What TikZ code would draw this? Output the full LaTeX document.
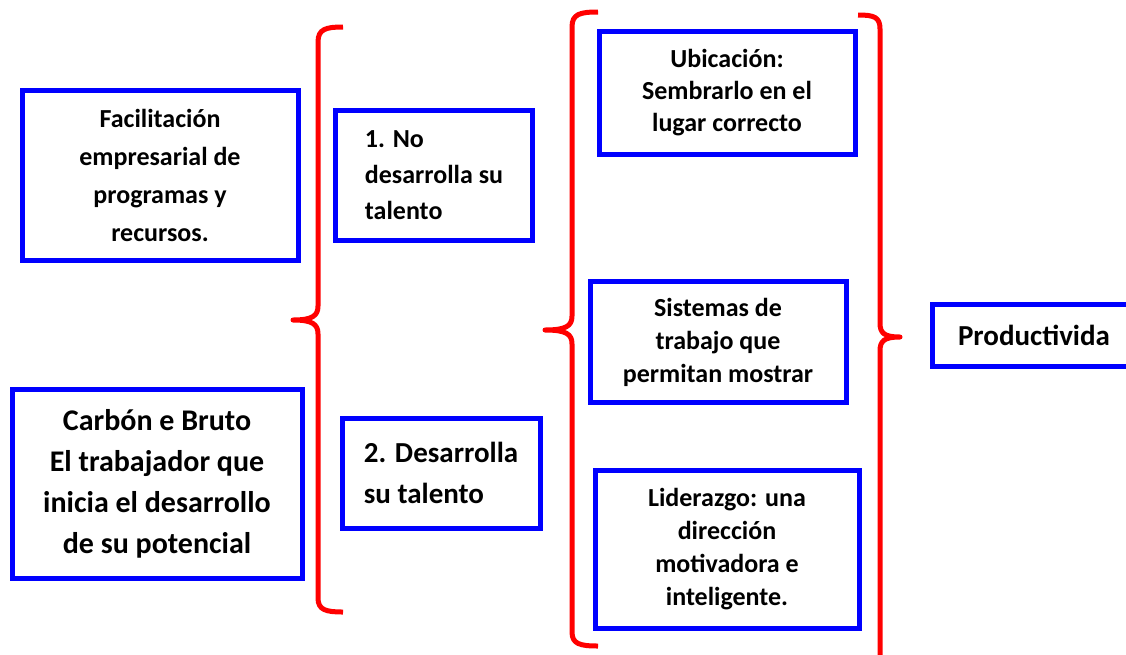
\documentclass[tikz,border=0pt]{standalone}
\usepackage{fontspec}
\setmainfont{Carlito}
\begin{document}
\begin{tikzpicture}[x=1pt,y=-1pt,
  caja/.style={draw=blue,line width=5pt,inner sep=0pt,align=center},
  llave/.style={draw=red,line width=5pt,line join=round}]
\useasboundingbox (0,0) rectangle (1126,654);
\clip (0,0) rectangle (1126,654);
\node[caja,minimum width=276pt,minimum height=170pt,font=\bfseries\fontsize{26}{38}\selectfont] (facil) at (160,175) {Facilitación\\empresarial de\\programas y\\recursos.};
\node[caja,minimum width=290pt,minimum height=189pt,font=\bfseries\fontsize{30}{41}\selectfont] (carbon) at (157,484) {Carbón e Bruto\\El trabajador que\\inicia el desarrollo\\de su potencial};
\node[caja,align=left,minimum width=197pt,minimum height=130pt,font=\bfseries\fontsize{26}{36}\selectfont] (nodes) at (434,175) {1. No\\desarrolla su\\talento};
\node[caja,align=left,minimum width=198pt,minimum height=110pt,font=\bfseries\fontsize{29}{41}\selectfont] (desa) at (441,473) {2. Desarrolla\\su talento};
\node[caja,minimum width=256pt,minimum height=123pt,font=\bfseries\fontsize{26}{32}\selectfont] (ubic) at (727,93) {Ubicación:\\Sembrarlo en el\\lugar correcto};
\node[caja,minimum width=256pt,minimum height=121pt,font=\bfseries\fontsize{26}{33}\selectfont] (sist) at (718,342) {Sistemas de\\trabajo que\\permitan mostrar};
\node[caja,minimum width=264pt,minimum height=158pt,font=\bfseries\fontsize{26}{33}\selectfont] (lider) at (727,549) {Liderazgo: una\\dirección\\motivadora e\\inteligente.};
\node[caja,minimum width=204pt,minimum height=62pt,font=\bfseries\fontsize{29}{35}\selectfont] (prod) at (1034,335) {Productivida};
\draw[llave] (343,27) .. controls (326,27) and (318,29) .. (318,42) -- (318,306)
  .. controls (318,316) and (312,320) .. (293,320)
  .. controls (312,320) and (318,324) .. (318,334) -- (318,598)
  .. controls (318,610) and (326,612) .. (343,612);
\draw[llave] (598,12) .. controls (580,12) and (572,14) .. (572,27) -- (572,316)
  .. controls (572,326) and (566,330) .. (545,330)
  .. controls (566,330) and (572,334) .. (572,344) -- (572,632)
  .. controls (572,644) and (580,646) .. (598,646);
\draw[llave] (858,15) .. controls (874,15) and (880,17) .. (880,29) -- (880,323)
  .. controls (880,333) and (884,337) .. (900,337)
  .. controls (884,337) and (880,341) .. (880,351) -- (880,660);
\end{tikzpicture}
\end{document}
